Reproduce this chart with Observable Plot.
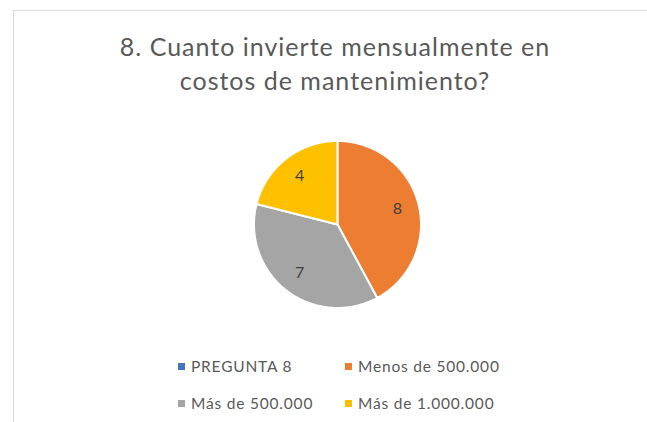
<!DOCTYPE html>
<html>
<head>
<meta charset="utf-8">
<script src="https://cdn.jsdelivr.net/npm/d3@7"></script>
<script src="https://cdn.jsdelivr.net/npm/@observablehq/plot@0.6"></script>
<style>
  html, body { margin: 0; padding: 0; background: #fff; }
  #wrap { position: relative; width: 647px; height: 422px; overflow: hidden; font-family: Lato, "Open Sans", sans-serif; }
  #frame { position: absolute; left: 13px; top: 10px; width: 700px; height: 500px; border: 1px solid #d9d9d9; box-sizing: border-box; }
  #title { position: absolute; left: 0; width: 670px; top: 29px; text-align: center; color: #595959; font-size: 25px; line-height: 34px; letter-spacing: 1px; }
  #chart { position: absolute; left: 247px; top: 134px; }
  .leg { position: absolute; color: #595959; font-size: 15.5px; line-height: 16px; white-space: nowrap; letter-spacing: 0.8px; }
  .sw { position: absolute; width: 7px; height: 7px; }
</style>
</head>
<body>
<div id="wrap">
  <div id="frame"></div>
  <div id="title">8. Cuanto invierte mensualmente en<br>costos de mantenimiento?</div>
  <div id="chart"></div>
  <div id="legend"></div>
</div>
<script>
// Data
const categories = ["PREGUNTA 8", "Menos de 500.000", "Más de 500.000", "Más de 1.000.000"];
const values = [0, 8, 7, 4];
const colors = ["#4472C4", "#ED7D31", "#A5A5A5", "#FFC000"];

const total = d3.sum(values);
const slices = [];
const labels = [];
let cum = 0;
categories.forEach((c, i) => {
  const v = values[i];
  const a0 = cum / total * 2 * Math.PI;
  cum += v;
  const a1 = cum / total * 2 * Math.PI;
  if (v <= 0) return;
  const n = Math.max(2, Math.ceil((a1 - a0) / (Math.PI / 180)));
  slices.push({cat: c, x: 0, y: 0});
  for (let k = 0; k <= n; k++) {
    const a = a0 + (a1 - a0) * k / n;
    slices.push({cat: c, x: Math.sin(a), y: Math.cos(a)});
  }
  slices.push({cat: c, x: 0, y: 0});
  const am = (a0 + a1) / 2;
  labels.push({cat: c, v, x: 0.74 * Math.sin(am), y: 0.74 * Math.cos(am)});
});

const chart = Plot.plot({
  width: 180, height: 180,
  margin: 6.5,
  x: {domain: [-1, 1], axis: null},
  y: {domain: [-1, 1], axis: null},
  color: {domain: categories, range: colors},
  style: {background: "transparent", overflow: "visible"},
  marks: [
    Plot.line(slices, {x: "x", y: "y", z: "cat", fill: "cat", stroke: "white", strokeWidth: 2, strokeLinejoin: "round", curve: "linear"}),
    Plot.text(labels, {x: "x", y: "y", text: "v", fill: "#404040", fontSize: 16, fontFamily: "Lato, sans-serif"})
  ]
});
document.getElementById("chart").appendChild(chart);

// Legend (2x2)
const legPos = [[178, 366], [345, 366], [178, 403], [345, 403]];
const leg = document.getElementById("legend");
categories.forEach((c, i) => {
  const [x, y] = legPos[i];
  const sw = document.createElement("div");
  sw.className = "sw";
  sw.style.left = x + "px"; sw.style.top = (y - 3.5) + "px";
  sw.style.background = colors[i];
  leg.appendChild(sw);
  const t = document.createElement("div");
  t.className = "leg";
  t.textContent = c;
  t.style.left = (x + 13) + "px"; t.style.top = (y - 8) + "px";
  leg.appendChild(t);
});
</script>
</body>
</html>
